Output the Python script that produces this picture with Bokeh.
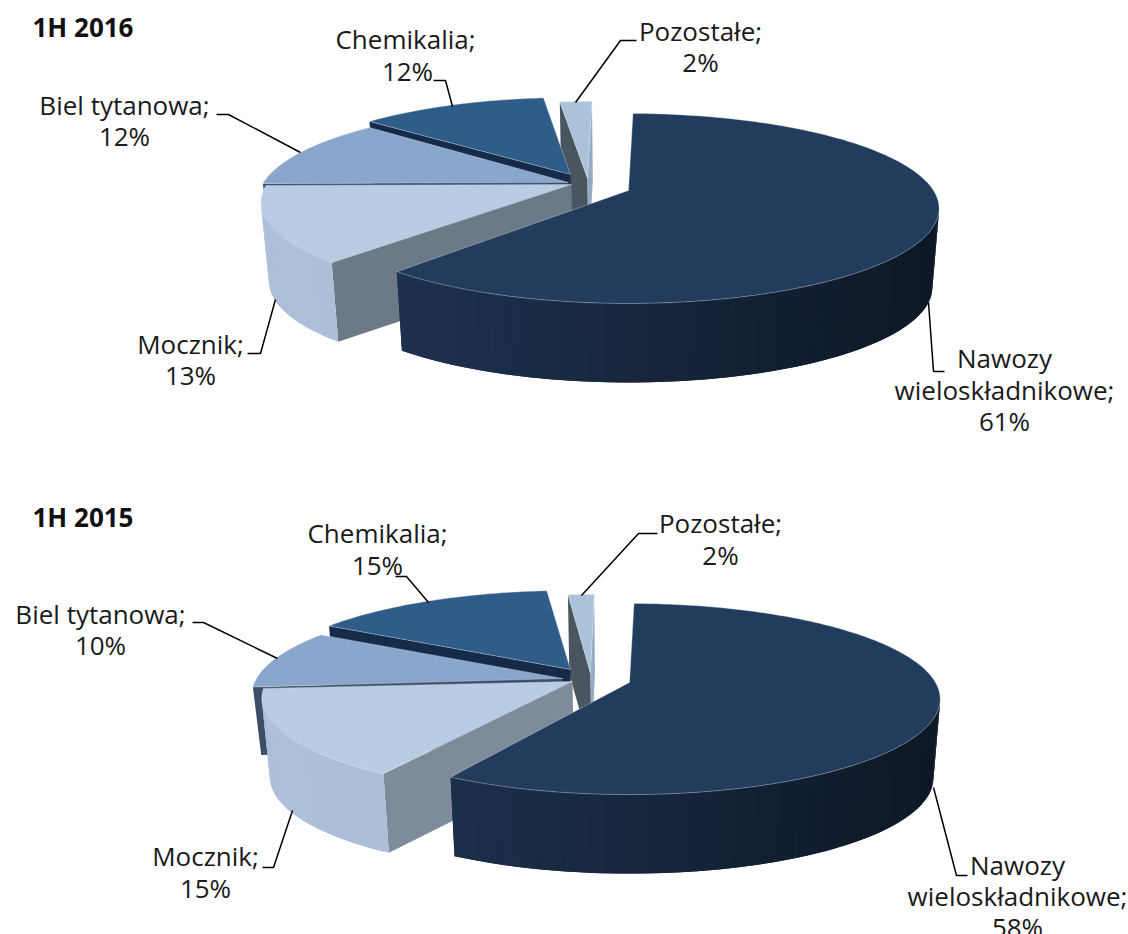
import math

from bokeh.core.properties import value
from bokeh.embed import file_html
from bokeh.models import Range1d
from bokeh.plotting import figure
from bokeh.resources import INLINE

# Shares of each product group, in the order the slices run clockwise from the top
CATEGORIES = ["Nawozy wieloskładnikowe", "Mocznik", "Biel tytanowa", "Chemikalia", "Pozostałe"]
SHARES_2016 = [61, 13, 12, 12, 2]
SHARES_2015 = [58, 15, 10, 15, 2]
TITLE_2016 = "1H 2016"
TITLE_2015 = "1H 2015"

TEXT_FONT = "Open Sans"
TEXT_SIZE = "26px"
TEXT_COLOR = "#1a1a1a"
DEPTH = 79            # height of the extruded pie
TAPER = 0.978         # how much the lower rim shrinks towards the axis
AXIS_X = 630
ROTATION = 1.0        # first slice angle, degrees

# top face, gradient of the rim (left, right), cut walls at the start and end of the slice
STYLE = {
    "Nawozy wieloskładnikowe": dict(top="#223C5D", rim=("#21385A", "#0E1826"), start="#1A2C46", end="#1A2C46"),
    "Mocznik": dict(top="#B8CCE4", rim=("#AEBFD9", "#A8BAD2"), start="#6C7986", end="#8899AE"),
    "Biel tytanowa": dict(top="#8AA6CC", rim=("#3D4D66", "#3D4D66"), start="#3D4D66", end="#3D4D66"),
    "Chemikalia": dict(top="#305C8A", rim=("#162A4A", "#162A4A"), start="#162A4A", end="#162A4A"),
    "Pozostałe": dict(top="#ABC2DB", rim=("#96AAC4", "#96AAC4"), start="#4B555F", end="#96AAC4"),
}

# apex of every slice, plus small per-slice turn (degrees) and horizontal scale
LAYOUT_2016 = dict(
    foreshorten=91.6, radius=305, perspective=0.189,
    apex={"Nawozy wieloskładnikowe": (628, 190), "Mocznik": (571, 184), "Biel tytanowa": (568, 182),
          "Chemikalia": (570, 174), "Pozostałe": (587, 178)},
    turn={"Mocznik": 2, "Biel tytanowa": 2},
    xscale={"Chemikalia": 0.975},
    left=262, right=940, cut={}, depth={},
)
LAYOUT_2015 = dict(
    foreshorten=92.7, radius=306, perspective=0.173,
    apex={"Nawozy wieloskładnikowe": (629, 682), "Mocznik": (572, 681), "Biel tytanowa": (562, 678),
          "Chemikalia": (570, 669), "Pozostałe": (590, 673)},
    turn={"Mocznik": 2, "Biel tytanowa": 1, "Chemikalia": 1},
    xscale={"Pozostałe": 0.8},
    left=254, right=941, cut={"Mocznik": "#7E8B9A"}, depth={"Biel tytanowa": 68},
)

# label lines (text, centre x, centre y)
LABELS_2016 = [
    ("Pozostałe;", 700, 30.5), ("2%", 700, 61.5),
    ("Chemikalia;", 405, 38.5), ("12%", 407, 70.5),
    ("Biel tytanowa;", 124, 104.5), ("12%", 124, 135.5),
    ("Mocznik;", 190, 343.5), ("13%", 190, 374.5),
    ("Nawozy", 1004, 357.5), ("wieloskładnikowe;", 1004, 389.5), ("61%", 1004, 420.5),
]
LABELS_2015 = [
    ("Pozostałe;", 720, 522.5), ("2%", 720, 554.5),
    ("Chemikalia;", 377, 532.5), ("15%", 377, 564.5),
    ("Biel tytanowa;", 100, 613.5), ("10%", 100, 644.5),
    ("Mocznik;", 205, 855.5), ("15%", 205, 887.5),
    ("Nawozy", 1017, 864.5), ("wieloskładnikowe;", 1017, 895.5), ("58%", 1017, 926.5),
]

LEADERS_2016 = [
    ([636, 620, 575], [40, 40, 102]),
    ([433, 445, 452], [80, 80, 106]),
    ([216, 228, 300], [114, 114, 152]),
    ([247, 260, 275], [353, 353, 299]),
    ([944, 933, 928], [371, 371, 302]),
]
LEADERS_2015 = [
    ([657, 638, 581], [533, 533, 595]),
    ([395, 406, 428], [576, 576, 602]),
    ([192, 203, 277], [622, 622, 658]),
    ([262, 273, 292], [867, 867, 810]),
    ([967, 956, 933], [875, 875, 787]),
]


def hex_mix(a, b, t):
    ca = [int(a[i:i + 2], 16) for i in (1, 3, 5)]
    cb = [int(b[i:i + 2], 16) for i in (1, 3, 5)]
    return "#%02x%02x%02x" % tuple(round(x + (y - x) * t) for x, y in zip(ca, cb))


def lower(pt, depth):
    return AXIS_X + (pt[0] - AXIS_X) * TAPER, pt[1] + depth


def draw_pie(p, shares, layout):
    """Paint the slices back to front as an extruded, perspective-projected pie."""
    total = sum(shares)
    k, r, persp = layout["foreshorten"], layout["radius"], layout["perspective"]
    bounds = []
    cum = 0
    for share in shares:
        bounds.append((cum, cum + share))
        cum += share

    def rim_point(apex, deg, xscale):
        t = math.radians(deg)
        u, v = math.sin(t), math.cos(t)
        s = 1 + persp * v
        return apex[0] + xscale * r * u / s, apex[1] - k * v / s

    for i in reversed(range(len(shares))):
        name = CATEGORIES[i]
        style = STYLE[name]
        apex = layout["apex"][name]
        depth = layout["depth"].get(name, DEPTH)
        xscale = layout["xscale"].get(name, 1)
        turn = ROTATION + layout["turn"].get(name, 0)
        a0 = bounds[i][0] / total * 360 + turn
        a1 = bounds[i][1] / total * 360 + turn
        steps = max(4, int((a1 - a0) / 1.0))
        arc = [rim_point(apex, a0 + (a1 - a0) * j / steps, xscale) for j in range(steps + 1)]

        xs, ys, colors = [], [], []

        def add_wall(a, b, color):
            # only walls whose outline runs leftwards in the clockwise walk face the viewer
            if b[0] - a[0] >= 0:
                return
            la, lb = lower(a, depth), lower(b, depth)
            xs.append([a[0], b[0], lb[0], la[0]])
            ys.append([a[1], b[1], lb[1], la[1]])
            colors.append(color)

        add_wall(apex, arc[0], layout["cut"].get(name, style["start"]))
        add_wall(arc[-1], apex, style["end"])
        lo, hi = layout["left"], layout["right"]
        # each rim strip reaches over the next one, so no seams show between them
        for j in range(steps):
            a, b = arc[j], arc[min(j + 2, steps)]
            t = min(1, max(0, (arc[j][0] - lo) / (hi - lo)))
            add_wall(a, b, hex_mix(style["rim"][0], style["rim"][1], t))
        if xs:
            p.patches(xs, ys, fill_color=colors, line_color=None)

        top_x = [apex[0]] + [q[0] for q in arc]
        top_y = [apex[1]] + [q[1] for q in arc]
        p.patch(top_x, top_y, fill_color=style["top"], line_color="#dfe7f1", line_alpha=0.35, line_width=1)


def draw_texts(p, title, title_y, labels, leaders):
    for xs, ys in leaders:
        p.line(xs, ys, line_color="#000000", line_width=1.5)
    p.text([row[1] for row in labels], [row[2] for row in labels], text=[row[0] for row in labels],
           text_font=value(TEXT_FONT), text_font_size=TEXT_SIZE, text_color=TEXT_COLOR,
           text_align="center", text_baseline="middle")
    p.text([32], [title_y], text=[title], text_font=value(TEXT_FONT), text_font_size="26px",
           text_font_style="bold", text_color="#111111", text_align="left", text_baseline="middle")


p = figure(width=1128, height=934, x_range=Range1d(0, 1128), y_range=Range1d(934, 0),
           output_backend="svg", toolbar_location=None, min_border=0)
p.axis.visible = False
p.grid.visible = False
p.outline_line_color = None

draw_pie(p, SHARES_2016, LAYOUT_2016)
draw_pie(p, SHARES_2015, LAYOUT_2015)
draw_texts(p, TITLE_2016, 26, LABELS_2016, LEADERS_2016)
draw_texts(p, TITLE_2015, 516, LABELS_2015, LEADERS_2015)

open("out.html", "w").write(file_html(p, INLINE))
